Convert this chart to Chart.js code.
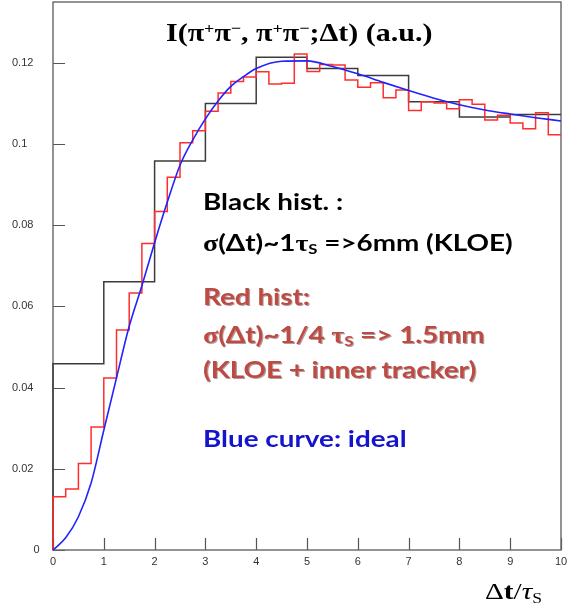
<!DOCTYPE html>
<html><head><meta charset="utf-8">
<script src="https://cdn.jsdelivr.net/npm/chart.js@4.4.0/dist/chart.umd.min.js"></script>
<style>
html,body{margin:0;padding:0;background:#fff;}
#wrap{position:relative;width:568px;height:610px;overflow:hidden;}
#c{position:absolute;left:0;top:0;}
.t{position:absolute;white-space:nowrap;line-height:1;transform-origin:0 50%;}
.title{font-family:"Liberation Serif",serif;font-weight:bold;font-size:25px;color:#000;left:166px;top:20px;transform:scaleX(1.2);}
.ann{font-family:Lato,"Open Sans",sans-serif;font-weight:bold;font-size:23px;left:203px;transform:scaleX(1.21);}
.g{font-family:"Liberation Serif",serif;}
.blk{color:#000;}
.red{color:#bd4b44;text-shadow:1px 1px 0 rgba(90,30,30,.45);}
.blu{color:#1414cc;}
.xt{font-family:"Liberation Serif",serif;font-size:24px;left:485px;top:579px;color:#000;transform:scaleX(1.22);}
sub{font-size:0.6em;vertical-align:-0.25em;line-height:0;}
sup{font-size:0.6em;vertical-align:0.55em;line-height:0;}
</style></head><body>
<div id="wrap">
<canvas id="c" width="568" height="610"></canvas>
<div class="t title">I(π<sup>+</sup>π<sup>−</sup>, π<sup>+</sup>π<sup>−</sup>;Δt) (a.u.)</div>
<div class="t ann blk" style="top:190px">Black hist. :</div>
<div class="t ann blk" style="top:231px"><span class="g">σ</span>(Δt)~1<span class="g">τ</span><sub>S</sub> =&gt;6mm (KLOE)</div>
<div class="t ann red" style="top:285px">Red hist:</div>
<div class="t ann red" style="top:323px"><span class="g">σ</span>(Δt)~1/4 <span class="g">τ</span><sub>S</sub> =&gt; 1.5mm</div>
<div class="t ann red" style="top:358px">(KLOE + inner tracker)</div>
<div class="t ann blu" style="top:427px">Blue curve: ideal</div>
<div class="t xt">Δ<b>t</b>/<i>τ</i><sub>S</sub></div>
</div>
<script>
// ---- data ----
const blackEdges  = [0,1,2,3,4,5,6,7,8,9,10];
const blackValues = [0.0459,0.0661,0.0958,0.1100,0.1214,0.1186,0.1169,0.1104,0.1067,0.1073];

const redEdges = [0,0.25,0.5,0.75,1,1.25,1.5,1.75,2,2.25,2.5,2.75,3,3.25,3.5,3.75,4,4.25,4.5,4.75,
                  5,5.25,5.5,5.75,6,6.25,6.5,6.75,7,7.25,7.5,7.75,8,8.25,8.5,8.75,9,9.25,9.5,9.75,10];
const redValues = [0.0131,0.0150,0.0213,0.0303,0.0424,0.0542,0.0633,0.0755,0.0834,0.0918,
                   0.1003,0.1033,0.1081,0.1126,0.1154,0.1165,0.1178,0.1148,0.1150,0.1222,
                   0.1179,0.1196,0.1195,0.1158,0.1140,0.1151,0.1114,0.1133,0.1083,0.1104,
                   0.1101,0.1087,0.1109,0.1098,0.1059,0.1071,0.1052,0.1038,0.1077,0.1023];

const blueX = [0,0.25,0.5,0.75,1,1.25,1.5,1.75,2,2.25,2.5,2.75,3,3.25,3.5,3.75,4,4.5,5,5.5,6,6.5,7,7.5,8,8.5,9,9.5,10];
const blueY = [0,0.003,0.0082,0.0165,0.0295,0.0424,0.0551,0.0651,0.0757,0.0857,0.0948,0.1010,0.1062,0.1106,0.1142,0.1166,
               0.1186,0.1204,0.1205,0.1191,0.1173,0.1152,0.1132,0.1113,0.1097,0.1084,0.1074,0.1065,0.1057];

const yTickValues = [0,0.02,0.04,0.06,0.08,0.1,0.12];
const yTickLabels = ['       0','0.02','0.04','0.06','0.08','0.1','0.12'];
const xTickValues = [0,1,2,3,4,5,6,7,8,9,10];
const xTickLabels = ['0','1','2','3','4','5','6','7','8','9','10'];

function histPoints(edges, values){
  const pts = [{x:edges[0], y:0}];
  values.forEach((v,i)=>pts.push({x:edges[i], y:v}));
  pts.push({x:edges[edges.length-1], y:values[values.length-1]});
  return pts;
}
const near = (a,b)=>Math.abs(a-b)<1e-9;

const frameTicks = {
  id:'frameTicks',
  beforeDatasetsDraw(chart){
    const ctx = chart.ctx, a = chart.chartArea, xs = chart.scales.x, ys = chart.scales.y;
    ctx.save();
    ctx.strokeStyle = '#555'; ctx.lineWidth = 1.2;
    ctx.beginPath();
    xs.ticks.forEach(t=>{
      const px = Math.round(xs.getPixelForValue(t.value))+0.5;
      const len = xTickValues.some(v=>near(v,t.value)) ? 12 : 6;
      ctx.moveTo(px, a.bottom); ctx.lineTo(px, a.bottom-len);
    });
    ys.ticks.forEach(t=>{
      const py = Math.round(ys.getPixelForValue(t.value))+0.5;
      const len = yTickValues.some(v=>near(v,t.value)) ? 12 : 6;
      ctx.moveTo(a.left, py); ctx.lineTo(a.left+len, py);
    });
    ctx.stroke();
    ctx.lineWidth = 1.4; ctx.strokeStyle='#666';
    ctx.strokeRect(a.left, a.top, a.right-a.left, a.bottom-a.top);
    ctx.restore();
  }
};

new Chart(document.getElementById('c'), {
  type:'line',
  data:{
    datasets:[
      {data: blueX.map((x,i)=>({x, y:blueY[i]})), borderColor:'#2222ff', borderWidth:1.6,
       pointRadius:0, tension:0.4, cubicInterpolationMode:'monotone', fill:false, order:0, clip:4},
      {data: histPoints(redEdges, redValues), borderColor:'#ff2d2d', borderWidth:1.5,
       pointRadius:0, stepped:'before', fill:false, order:1, clip:4},
      {data: histPoints(blackEdges, blackValues), borderColor:'#3c3c3c', borderWidth:1.5,
       pointRadius:0, stepped:'before', fill:false, order:2, clip:4}
    ]
  },
  options:{
    responsive:false, animation:false, devicePixelRatio:1,
    layout:{padding:{left:12, right:7, top:2, bottom:0}},
    plugins:{legend:{display:false}, tooltip:{enabled:false}, title:{display:false}},
    scales:{
      x:{type:'linear', min:0, max:10,
         afterFit(s){ s.height = 60; s.paddingLeft = 0; s.paddingRight = 0; },
         grid:{display:false, drawTicks:false}, border:{display:false},
         ticks:{stepSize:0.25, autoSkip:false, maxRotation:0, padding:5, color:'#333',
                font:{family:'"Liberation Sans", Arial, sans-serif', size:11},
                callback(v){ const i = xTickValues.findIndex(t=>near(t,v)); return i>=0 ? xTickLabels[i] : null; }}},
      y:{type:'linear', min:0, max:0.135,
         afterFit(s){ s.width = 41; s.paddingTop = 0; s.paddingBottom = 0; },
         grid:{display:false, drawTicks:false}, border:{display:false},
         ticks:{stepSize:0.005, autoSkip:false, crossAlign:'far', padding:0, color:'#333',
                font:{family:'"Liberation Sans", Arial, sans-serif', size:11},
                callback(v){ const i = yTickValues.findIndex(t=>near(t,v)); return i>=0 ? yTickLabels[i] : null; }}}
    }
  },
  plugins:[frameTicks]
});
</script>
</body></html>
